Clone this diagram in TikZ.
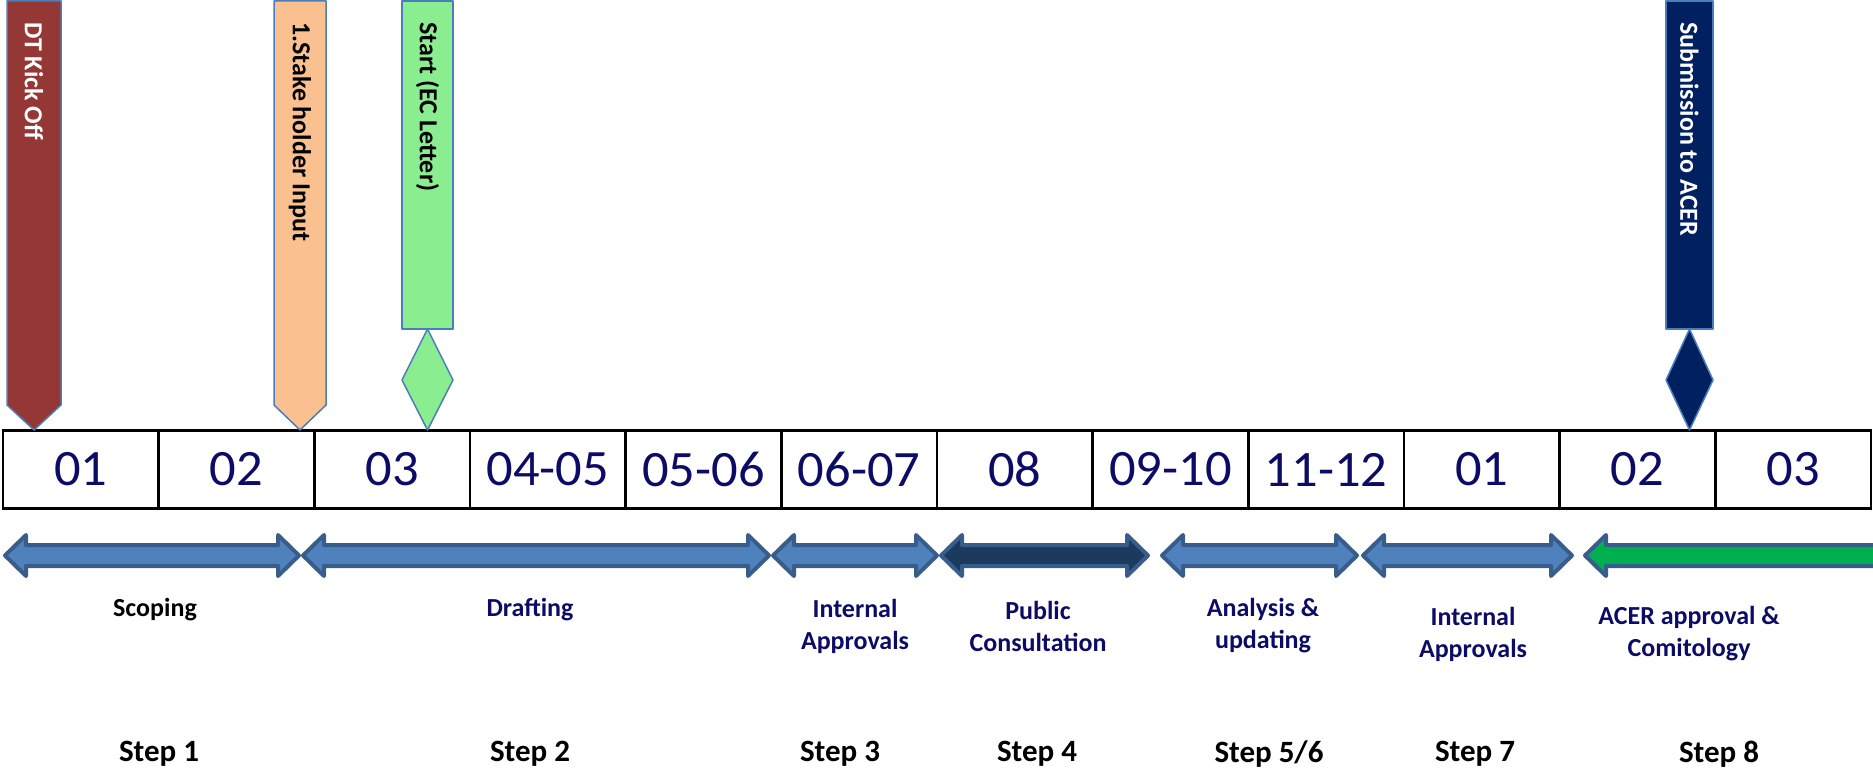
\documentclass[tikz,border=0pt]{standalone}
\usepackage{fontspec}
\usepackage{graphicx}
\setmainfont{Carlito}
\usetikzlibrary{calc}
\definecolor{monthnavy}{HTML}{0C0C66}
\definecolor{kickred}{HTML}{953735}
\definecolor{stakeorange}{HTML}{FAC090}
\definecolor{startgreen}{HTML}{8AEE90}
\definecolor{subnavy}{HTML}{002060}
\definecolor{barblue}{HTML}{4A7EBB}
\definecolor{phaseblue}{HTML}{4F81BD}
\definecolor{phasedark}{HTML}{1B3A5E}
\definecolor{arrowborder}{HTML}{385D8A}
\definecolor{acergreen}{HTML}{00B050}
\tikzset{
    cell/.style={draw=black,line width=2.5pt,minimum width=155.67pt,minimum height=78pt,
        inner sep=0pt,text=monthnavy,font=\fontsize{51}{60}\selectfont},
    bar/.style={draw=barblue,line width=1.5pt,line join=round},
    bar text/.style={rotate=-90,anchor=west,inner sep=0pt,font=\bfseries\fontsize{26}{30}\selectfont},
    phase arrow/.style={draw=arrowborder,line width=4pt,line join=round},
    phase label/.style={font=\bfseries\fontsize{26}{32}\selectfont,align=center,text=monthnavy},
    step label/.style={font=\bfseries\fontsize{31}{36}\selectfont},
}

\begin{document}
\begin{tikzpicture}[x=1pt,y=-1pt]
    \useasboundingbox (0,0) rectangle (1873,768);

    % month table
    \foreach \m [count=\i from 0] in {01,02,03,04-05,05-06,06-07,08,09-10,11-12,01,02,03}
        \node[cell] (m\i) at ({3+155.67*(\i+0.5)},469.5) {\scalebox{1.03}[1]{\m}};

    % milestones
    \draw[bar,fill=kickred] (7,1) -- (61,1) -- (61,405) -- (34,430) -- (7,405) -- cycle;
    \node[bar text,text=white] (kickoff) at (34,22) {DT Kick Off};

    \draw[bar,fill=stakeorange] (274,1) -- (326,1) -- (326,405) -- (300,430) -- (274,405) -- cycle;
    \node[bar text] (stake) at (300,22) {1.Stake holder Input};

    \draw[bar,fill=startgreen] (402,1) rectangle (453,329);
    \draw[bar,fill=startgreen] (427.5,329) -- (453,380) -- (427.5,430) -- (402,380) -- cycle;
    \node[bar text] (start) at (427.5,22) {Start (EC Letter)};

    \draw[bar,fill=subnavy] (1666,1) rectangle (1713,329);
    \draw[bar,fill=subnavy] (1689.5,329) -- (1713,380) -- (1689.5,430) -- (1666,380) -- cycle;
    \node[bar text,text=white] (submission) at (1689.5,22) {Submission to ACER};

    % phases
    \foreach \xa/\xb/\col in {5/299/phaseblue,303/769/phaseblue,773/937/phaseblue,
        941/1148/phasedark,1162/1357/phaseblue,1363/1572/phaseblue}
        \draw[phase arrow,fill=\col] (\xa,555.5) -- (\xa+21,535) -- (\xa+21,545) -- (\xb-21,545)
            -- (\xb-21,535) -- (\xb,555.5) -- (\xb-21,576) -- (\xb-21,566) -- (\xa+21,566)
            -- (\xa+21,576) -- cycle;
    \draw[phase arrow,fill=acergreen] (1585,555.5) -- (1606,535) -- (1606,545) -- (1885,545)
        -- (1885,566) -- (1606,566) -- (1606,576) -- cycle;

    \node[phase label,text=black] (scoping) at (155,610) {Scoping};
    \node[phase label] (drafting) at (530,610) {Drafting};
    \node[phase label] (internal) at (855,626) {Internal\\Approvals};
    \node[phase label] (public) at (1038,626) {Public\\Consultation};
    \node[phase label] (analysis) at (1263,626) {Analysis \&\\updating};
    \node[phase label] (internal2) at (1473,634) {Internal\\Approvals};
    \node[phase label] (acer) at (1689,634) {ACER approval \&\\Comitology};

    % steps
    \foreach \x/\s [count=\k] in {159/1,530/2,840/3,1037/4,1269/{5/6},1475/7,1719/8}
        \node[step label] (step\k) at (\x,754) {Step \s};
\end{tikzpicture}
\end{document}
